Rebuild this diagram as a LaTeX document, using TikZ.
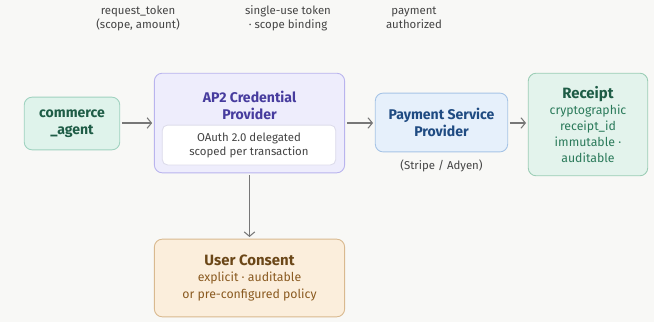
\documentclass[tikz,border=0pt]{standalone}
\usepackage{fontspec}
\setmainfont{Fira Sans}
\usetikzlibrary{arrows.meta,positioning}
\usepackage{xcolor}
\definecolor{bgcol}{HTML}{F8F8F6}
\definecolor{arrowgray}{HTML}{777777}
\definecolor{labelgray}{HTML}{444444}
\definecolor{agentfill}{HTML}{DFF3EB}
\definecolor{agentline}{HTML}{9FD2BF}
\definecolor{agenttext}{HTML}{1E5C46}
\definecolor{apfill}{HTML}{EEEDFC}
\definecolor{apline}{HTML}{B9B4EE}
\definecolor{aptext}{HTML}{473C9E}
\definecolor{noteline}{HTML}{DDDCEB}
\definecolor{pspfill}{HTML}{E6F0FB}
\definecolor{pspline}{HTML}{A6C4E6}
\definecolor{psptext}{HTML}{1F4B82}
\definecolor{rcptfill}{HTML}{E3F3EC}
\definecolor{rcptline}{HTML}{9BCDB5}
\definecolor{rcpttext}{HTML}{2A7A5A}
\definecolor{userfill}{HTML}{FBEEDC}
\definecolor{userline}{HTML}{D9B98F}
\definecolor{usertitle}{HTML}{6B4718}
\definecolor{usertext}{HTML}{8A5A20}

\begin{document}
\begin{tikzpicture}[x=0.02cm, y=-0.02cm,
  every node/.style={font=\fontsize{6.5}{8}\selectfont},
  box/.style={draw, rounded corners=4.5pt, line width=0.5pt, align=center, inner sep=0pt},
  title/.style={font=\fontsize{8}{9.6}\selectfont\bfseries},
  body/.style={font=\fontsize{7}{9.2}\selectfont},
  flow/.style={draw=arrowgray, line width=0.6pt, -{Straight Barb[length=2.5pt,width=6pt]}, shorten <=1pt, shorten >=1pt}]
  % background and frame
  \fill[bgcol] (0,0) rectangle (654,322);
  \useasboundingbox (0,0) rectangle (654,322);

  % boxes
  \node[box, fill=agentfill, draw=agentline, text=agenttext, title,
        minimum width=54.4pt, minimum height=30pt] (agent) at (72,123.5) {commerce\\\_agent};
  \node[box, fill=apfill, draw=apline, minimum width=108.3pt, minimum height=56.7pt] (ap2) at (249.5,123) {};
  \node[title, text=aptext, align=center] (ap2title) at (249.5,105.5) {AP2 Credential\\Provider};
  \node[box, fill=white, draw=noteline, rounded corners=3pt, text=labelgray,
        minimum width=98.7pt, minimum height=22.7pt] (ap2note) at (249,145) {OAuth 2.0 delegated\\scoped per transaction};
  \node[box, fill=pspfill, draw=pspline, text=psptext, title,
        minimum width=75.4pt, minimum height=33.5pt] (psp) at (441.5,122.5) {Payment Service\\Provider};
  \node[text=labelgray, below=0.5pt of psp] (pspnote) {(Stripe / Adyen)};
  \node[box, fill=rcptfill, draw=rcptline, text=rcpttext, body,
        minimum width=68pt, minimum height=58.4pt] (rcpt) at (588,124.5)
        {{\fontsize{8.5}{10}\selectfont\bfseries\color{agenttext}Receipt}\\cryptographic\\receipt\_id\\immutable ·\\auditable};
  \node[box, fill=userfill, draw=userline, text=usertext, body,
        minimum width=108.3pt, minimum height=44.2pt] (user) at (249.5,278)
        {{\fontsize{8.5}{10}\selectfont\bfseries\color{usertitle}User Consent}\\explicit · auditable\\or pre-configured policy};

  % flow labels
  \node[text=labelgray, align=center] (lblreq) at (138,18) {request\_token\\(scope, amount)};
  \node[text=labelgray, align=center] (lbltok) at (288,18) {single-use token\\· scope binding};
  \node[text=labelgray, align=center] (lblpay) at (414,18) {payment\\authorized};

  % connectors
  \draw[flow] (agent.east |- 0,123) -- (ap2.west |- 0,123);
  \draw[flow] (ap2.east |- 0,123) -- (psp.west |- 0,123);
  \draw[flow] (psp.east |- 0,123) -- (rcpt.west |- 0,123);
  \draw[flow] (ap2.south) -- (user.north);
\end{tikzpicture}
\end{document}
